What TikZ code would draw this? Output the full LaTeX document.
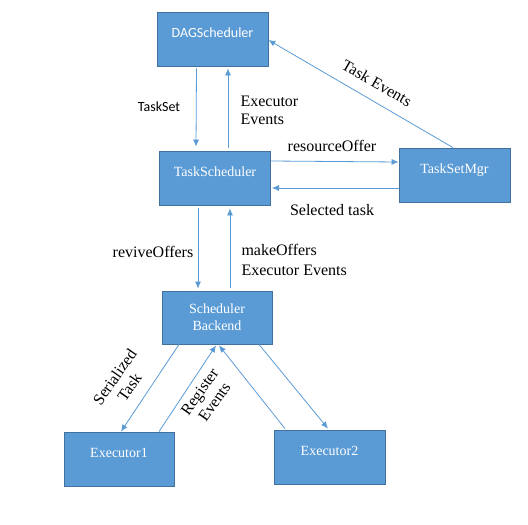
\documentclass[tikz,border=0pt]{standalone}
\usepackage{fontspec}
\setmainfont{Liberation Serif}
\newfontfamily\calibri{Carlito}
\usepackage{tikz}
\usetikzlibrary{arrows.meta,positioning}

\definecolor{boxblue}{HTML}{5B9BD5}
\definecolor{boxedge}{HTML}{41719C}

\begin{document}
\begin{tikzpicture}[x=1pt, y=-1pt,
    every node/.style={font=\fontsize{16}{18}\selectfont},
    block/.style={draw=boxedge, fill=boxblue, text=white, line width=0.8pt,
        minimum width=111pt, minimum height=54pt, inner sep=0pt,
        font=\fontsize{14}{17}\selectfont, text height=9.5pt, text depth=12pt},
    flow/.style={draw=boxblue, line width=0.8pt, -{Latex[length=7pt,width=6pt]}}]
    \useasboundingbox (0,0) rectangle (528,525);

    % Components
    \node[block, font=\calibri\fontsize{14}{17}\selectfont] (dag) at (212.5,39) {DAGScheduler};
    \node[block] (ts) at (215,178) {TaskScheduler};
    \node[block] (mgr) at (454.5,175) {TaskSetMgr};
    \node[block, align=center, text height=, text depth=, minimum width=110pt, minimum height=53pt] (sb) at (217,317.5) {Scheduler\\Backend};
    \node[block, minimum width=110pt] (ex1) at (119,459) {Executor1};
    \node[block] (ex2) at (329.5,457) {Executor2};

    % DAGScheduler <-> TaskScheduler
    \draw[flow] ([xshift=-16pt,yshift=-2pt]dag.south) -- ([xshift=-19pt,yshift=4pt]ts.north);
    \draw[flow] ([xshift=13pt,yshift=3pt]ts.north) -- ([xshift=15.5pt,yshift=-2pt]dag.south);
    \node[font=\calibri\fontsize{14}{17}\selectfont] (tasksetlbl) at (159,107) {TaskSet};
    \node[anchor=west, align=left] (execlbl) at (237,110) {Executor\\Events};

    % TaskScheduler <-> TaskSetMgr
    \draw[flow] ([yshift=17pt]ts.east) -- ([yshift=13pt]mgr.west);
    \draw[flow] ([yshift=-13pt]mgr.west) -- ([xshift=1pt,yshift=-10pt]ts.east);
    \node (offerlbl) at (332,146) {resourceOffer};
    \node (selectlbl) at (332,210) {Selected task};

    % TaskSetMgr -> DAGScheduler
    \draw[flow] ([xshift=-1.5pt]mgr.north) -- ([yshift=-1pt]dag.east);
    \node[rotate=-30] (eventlbl) at (377,83) {Task Events};

    % TaskScheduler <-> SchedulerBackend
    \draw[flow] ([xshift=-17pt,yshift=-3pt]ts.south) -- ([xshift=-19pt,yshift=2pt]sb.north);
    \draw[flow] ([xshift=13pt,yshift=3pt]sb.north) -- ([xshift=15pt,yshift=-3pt]ts.south);
    \node (revivelbl) at (153,252) {reviveOffers};
    \node[anchor=west, align=left, font=\fontsize{16}{20}\selectfont] (makelbl) at (238,260) {makeOffers\\Executor Events};

    % SchedulerBackend <-> Executors
    \draw[flow] ([xshift=-38pt]sb.south) -- ([xshift=2pt]ex1.north);
    \draw[flow] ([xshift=40pt]ex1.north) -- ([xshift=-1pt,yshift=-1pt]sb.south);
    \draw[flow] ([xshift=-44.5pt,yshift=1pt]ex2.north) -- ([xshift=2pt,yshift=-1pt]sb.south);
    \draw[flow] ([xshift=42pt]sb.south) -- ([xshift=-1.5pt,yshift=1pt]ex2.north);
    \node[rotate=55, align=center] (seriallbl) at (122,382) {Serialized\\Task};
    \node[rotate=55, align=center] (registerlbl) at (207,397) {Register\\Events};
\end{tikzpicture}
\end{document}
